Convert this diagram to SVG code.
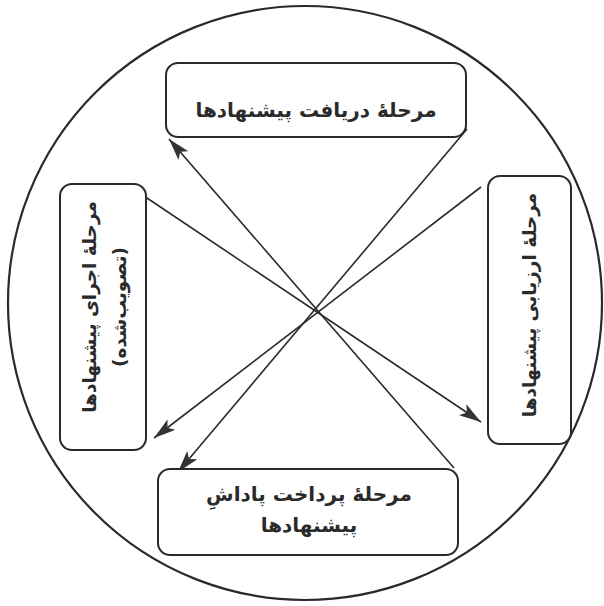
<svg xmlns="http://www.w3.org/2000/svg" width="604" height="606" viewBox="0 0 604 606">
<defs>
<style>
.box{fill:#ffffff;stroke:#2a2a2a;stroke-width:2}
.lbl{font-family:"DejaVu Sans","Noto Sans",sans-serif;font-weight:bold;font-size:20px;fill:#2a2a2a;text-anchor:middle}
.vl{font-size:18.5px}
.con{stroke:#2a2a2a;stroke-width:1.6;fill:none;marker-end:url(#ah)}
</style>
<marker id="ah" markerUnits="userSpaceOnUse" markerWidth="24" markerHeight="14" refX="22" refY="6.5" orient="auto">
<path d="M0,0 L22,6.5 L0,13 L5,6.5 Z" fill="#333333"/>
</marker>
</defs>
<rect width="604" height="606" fill="#ffffff"/>
<circle cx="305" cy="303" r="297" fill="none" stroke="#2a2a2a" stroke-width="2.2"/>
<g id="connectors">
<line class="con" x1="467" y1="129" x2="178" y2="472"/>
<line class="con" x1="481" y1="187" x2="154" y2="438"/>
<line class="con" x1="144" y1="196" x2="481" y2="422"/>
<line class="con" x1="454" y1="468" x2="169" y2="139"/>
</g>
<g id="n-receive">
<rect class="box" x="166" y="63" width="300" height="74" rx="12"/>
<text class="lbl" x="316" y="117" direction="rtl">مرحلۀ دریافت پیشنهادها</text>
</g>
<g id="n-implement">
<rect class="box" x="60" y="184" width="86" height="266" rx="12"/>
<text class="lbl vl" transform="translate(96,307) rotate(-90)" direction="rtl">مرحلۀ اجرای پیشنهادها</text>
<text class="lbl vl" transform="translate(126,307) rotate(-90)" direction="rtl">(تصویب‌شده)</text>
</g>
<g id="n-evaluate">
<rect class="box" x="488" y="176" width="83" height="268" rx="12"/>
<text class="lbl vl" transform="translate(536,305) rotate(-90)" direction="rtl">مرحلۀ ارزیابی پیشنهادها</text>
</g>
<g id="n-reward">
<rect class="box" x="158" y="469" width="300" height="86" rx="12"/>
<text class="lbl" x="309" y="501" direction="rtl">مرحلۀ پرداخت پاداشِ</text>
<text class="lbl" x="309" y="532" direction="rtl">پیشنهادها</text>
</g>
</svg>
